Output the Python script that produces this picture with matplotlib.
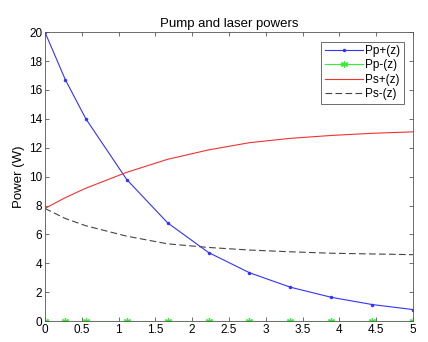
import matplotlib
matplotlib.use("Agg")
import matplotlib.pyplot as plt
import numpy as np

plt.rcParams['font.family'] = ['Liberation Sans', 'DejaVu Sans']

# sample positions along the fibre (m)
z = [0, 0.278, 0.556, 1.111, 1.667, 2.222, 2.778, 3.333, 3.889, 4.444, 5.0]
pp_fwd = [20.0, 16.7, 14.0, 9.8, 6.8, 4.75, 3.35, 2.35, 1.65, 1.15, 0.8]
pp_bwd = [0, 0, 0, 0, 0, 0, 0, 0, 0, 0, 0]
ps_fwd = [7.8, 8.55, 9.2, 10.3, 11.2, 11.85, 12.35, 12.65, 12.85, 13.0, 13.1]
ps_bwd = [7.8, 7.1, 6.6, 5.88, 5.35, 5.1, 4.92, 4.8, 4.7, 4.65, 4.6]

fig = plt.figure(figsize=(4.28, 3.42), dpi=100)
ax = fig.add_axes([0.105, 0.061, 0.86, 0.845])

ax.plot(z, pp_fwd, color='#3333ff', marker='.', markersize=3, lw=0.8, label='Pp+(z)')
ax.plot(z, pp_bwd, color='#33ee33', marker=(6, 2, 0), markersize=5, mew=0.9, lw=0.8, label='Pp-(z)')
ax.plot(z, ps_fwd, color='#ee3333', lw=0.8, label='Ps+(z)')
ax.plot(z, ps_bwd, color='#444444', lw=0.8, ls=(0, (6, 3)), label='Ps-(z)')

ax.set_xlim(0, 5)
ax.set_ylim(0, 20)
ax.set_xticks(np.arange(0, 5.01, 0.5))
ax.set_xticklabels(['0', '0.5', '1', '1.5', '2', '2.5', '3', '3.5', '4', '4.5', '5'])
ax.set_yticks(np.arange(0, 21, 2))
ax.tick_params(direction='in', top=True, right=True, labelsize=8.5, length=3, width=0.6, color='#555555', pad=2)
for s in ax.spines.values():
    s.set_linewidth(0.6)
    s.set_color('#555555')

ax.set_ylabel('Power (W)', fontsize=9.5, labelpad=3)
ax.set_title('Pump and laser powers', fontsize=9.5, pad=4)
leg = ax.legend(loc='upper right', fontsize=8.5, fancybox=False, edgecolor='#555555',
                framealpha=1, handlelength=3.2, handletextpad=0.2, borderpad=0.3,
                labelspacing=0.2, borderaxespad=0.8, numpoints=1)
leg.get_frame().set_linewidth(0.6)

fig.savefig('out.png', dpi=100)
